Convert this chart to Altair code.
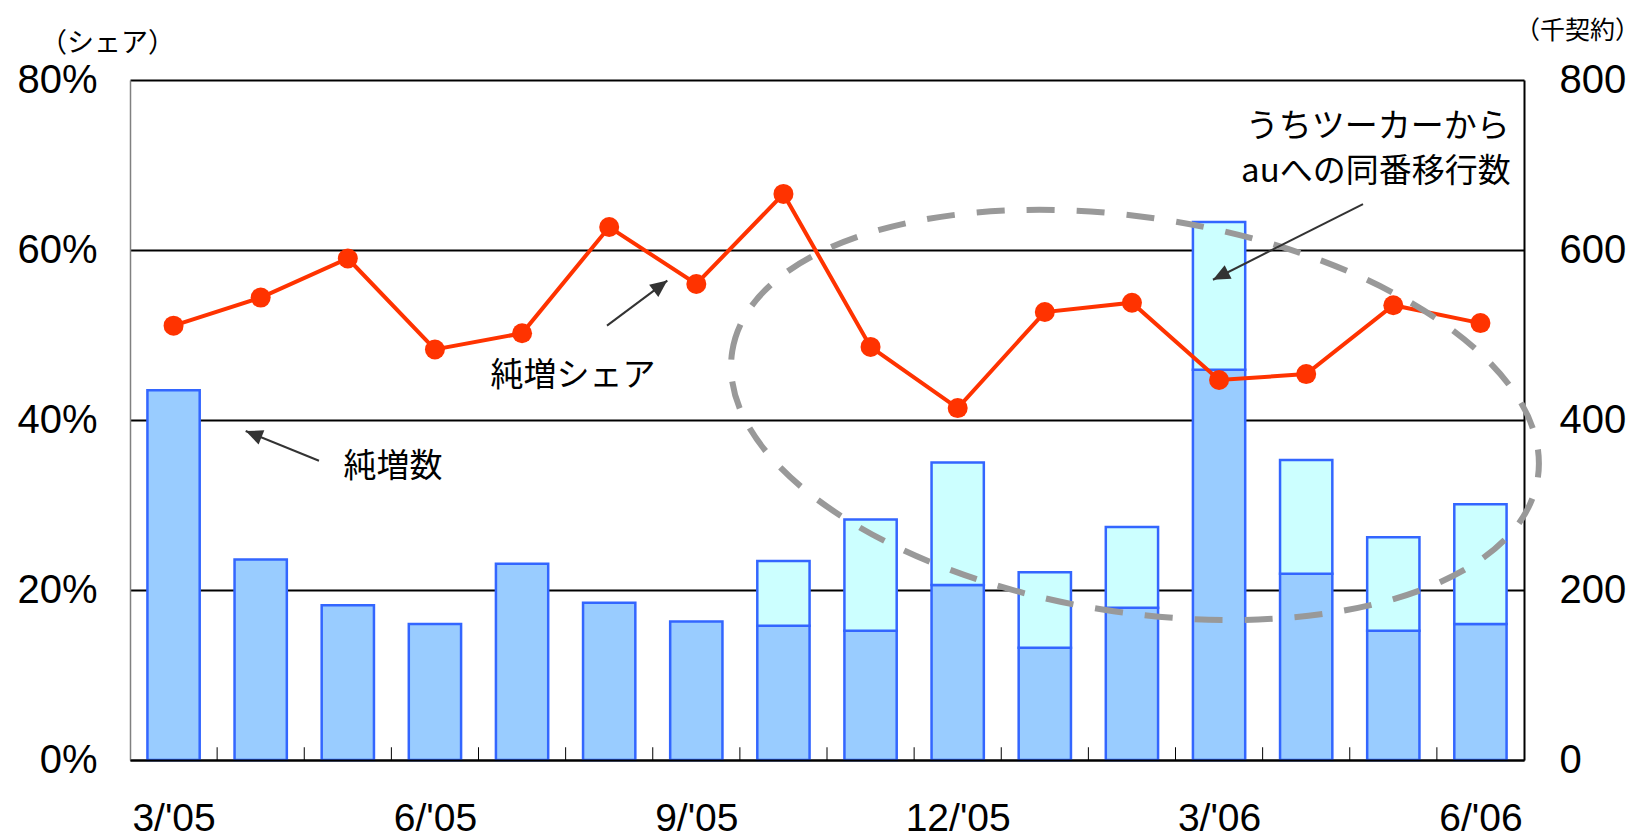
import json
import altair as alt
import pandas as pd

# ---------------- data ----------------
months = ["3/'05", "4/'05", "5/'05", "6/'05", "7/'05", "8/'05", "9/'05", "10/'05",
          "11/'05", "12/'05", "1/'06", "2/'06", "3/'06", "4/'06", "5/'06", "6/'06"]
net_adds = [435, 236, 182, 160, 231, 185, 163, 234, 283, 350, 221, 274, 633, 353, 262, 301]   # 千契約
ported = [0, 0, 0, 0, 0, 0, 0, 76, 131, 144, 89, 95, 174, 134, 110, 141]                    # うち同番移行数
share = [51.1, 54.4, 59.0, 48.3, 50.2, 62.7, 56.0, 66.6, 48.6, 41.4, 52.7, 53.8, 44.7, 45.4, 53.5, 51.4]  # %

label_months = [0, 3, 6, 9, 12, 15]
share_ticks = [0, 20, 40, 60, 80]
count_ticks = [0, 200, 400, 600, 800]

# annotations (in data units: month index, share %)
ann_text = ["純増シェア", "純増数", "うちツーカーから", "auへの同番移行数"]
ann_x = [4.585, 2.519, 13.82, 13.80]
ann_y = [45.2, 34.5, 74.5, 69.2]

arrow_x = [4.975, 1.669, 13.652]
arrow_y = [51.1, 35.2, 65.4]
arrow_tx = [5.667, 0.828, 11.930]
arrow_ty = [56.4, 38.7, 56.5]
arrow_angle = [53, 292, 243]

ellipse_x = [11.035]
ellipse_y = [40.6]

# ---------------- tables ----------------
df = pd.DataFrame({"idx": list(range(len(months))), "month": months,
                   "net": net_adds, "ported": ported, "share": share})
df_ann = pd.DataFrame({"text": ann_text, "x": ann_x, "y": ann_y})
df_arrow = pd.DataFrame({"x": arrow_x, "y": arrow_y, "tx": arrow_tx, "ty": arrow_ty,
                         "angle": arrow_angle})
df_ell = pd.DataFrame({"x": ellipse_x, "y": ellipse_y})

LAT = "Liberation Sans"
NARROW = "Liberation Sans Narrow, Arial Narrow, Liberation Sans"
JP = "Noto Sans CJK JP"

xscale = alt.Scale(domain=[-0.5, len(months) - 0.5], nice=False, zero=False)
share_scale = alt.Scale(domain=[0, 80], nice=False)
count_scale = alt.Scale(domain=[0, 800], nice=False)

x_axis = alt.Axis(values=label_months, labelExpr=json.dumps(months) + "[datum.value]",
                  ticks=False, grid=False, domainColor="black", domainWidth=2,
                  labelFont=NARROW, labelFontSize=39, labelColor="black",
                  labelPadding=39, title=None, zindex=1)

left_axis = alt.Axis(orient="left", values=share_ticks, labelExpr="datum.value + '%'",
                     ticks=False, grid=True, gridColor="black", gridWidth=2,
                     domainColor="#808080", domainWidth=1.5,
                     labelFont=LAT, labelFontSize=40, labelColor="black", labelPadding=33,
                     title="（シェア）", titleAngle=0, titleX=-23, titleY=-37,
                     titleAlign="center", titleBaseline="middle", titleFont=JP,
                     titleFontSize=27, titleFontWeight="normal", titleColor="black")

right_axis = alt.Axis(orient="right", values=count_ticks, ticks=False, grid=False,
                      domainColor="black", domainWidth=2,
                      labelFont=LAT, labelFontSize=40, labelColor="black", labelPadding=35,
                      title="（千契約）", titleAngle=0, titleX=53, titleY=-50,
                      titleAlign="center", titleBaseline="middle", titleFont=JP,
                      titleFontSize=25, titleFontWeight="normal", titleColor="black")


def X(field):
    return alt.X(field, scale=xscale, axis=x_axis)


def YS(field):
    return alt.Y(field, scale=share_scale, axis=left_axis)


base = alt.Chart(df).transform_calculate(
    lo="datum.idx - 0.3", hi="datum.idx + 0.3", lower="datum.net - datum.ported", zero="0"
)

bars_lower = base.mark_bar(fill="#99CCFF", stroke="#3366FF", strokeWidth=2.5).encode(
    x=X("lo:Q"), x2="hi:Q",
    y=alt.Y("lower:Q", scale=count_scale, axis=right_axis), y2="zero:Q",
)
bars_upper = base.transform_filter("datum.ported > 0").mark_bar(
    fill="#CCFFFF", stroke="#3366FF", strokeWidth=2.5).encode(
    x=X("lo:Q"), x2="hi:Q",
    y=alt.Y("lower:Q", scale=count_scale, axis=right_axis), y2="net:Q",
)
bars = alt.layer(bars_lower, bars_upper)

ticks = alt.Chart(df).transform_filter(f"datum.idx < {len(months) - 1}").transform_calculate(
    b="datum.idx + 0.5", t0="0", t1="1.5"
).mark_rule(color="black", strokeWidth=1).encode(
    x=X("b:Q"), y=YS("t0:Q"), y2="t1:Q",
)

line = alt.Chart(df).mark_line(color="#FF3300", strokeWidth=4).encode(
    x=X("idx:Q"), y=YS("share:Q"),
)
points = alt.Chart(df).mark_circle(color="#FF3300", size=400, opacity=1).encode(
    x=X("idx:Q"), y=YS("share:Q"),
)

ellipse_path = ("M-1,0 C-1,-0.267 -0.552,-0.484 0,-0.484 C0.552,-0.484 1,-0.267 1,0 "
                "C1,0.267 0.552,0.484 0,0.484 C-0.552,0.484 -1,0.267 -1,0 Z")
ellipse = alt.Chart(df_ell).mark_point(
    shape=ellipse_path, size=665000, angle=9, filled=False, stroke="#999999",
    strokeWidth=6, strokeDash=[28, 22], opacity=1).encode(
    x=X("x:Q"), y=YS("y:Q"),
)

texts = alt.Chart(df_ann).mark_text(font=JP, fontSize=33, color="black",
                                    align="center", baseline="middle").encode(
    x=X("x:Q"), y=YS("y:Q"), text="text:N",
)

shafts = alt.Chart(df_arrow).mark_rule(color="#333333", strokeWidth=2).encode(
    x=X("x:Q"), y=YS("y:Q"), x2="tx:Q", y2="ty:Q",
)
heads = alt.Chart(df_arrow).mark_point(shape="M0,0 L0.45,1 L-0.45,1 Z", size=1156,
                                       filled=True, color="#333333", opacity=1).encode(
    x=X("tx:Q"), y=YS("ty:Q"),
    angle=alt.Angle("angle:Q", scale=None),
)

share_layer = alt.layer(ticks, line, points, ellipse, texts, shafts, heads)

chart = alt.layer(bars, share_layer).resolve_scale(y="independent").properties(
    width=1394, height=680,
    autosize=alt.AutoSizeParams(type="none"),
    padding={"left": 122, "top": 72, "right": 117, "bottom": 84},
    background="white",
).configure_view(stroke=None)

chart.save("out.html", embed_options={"renderer": "svg", "actions": False})
